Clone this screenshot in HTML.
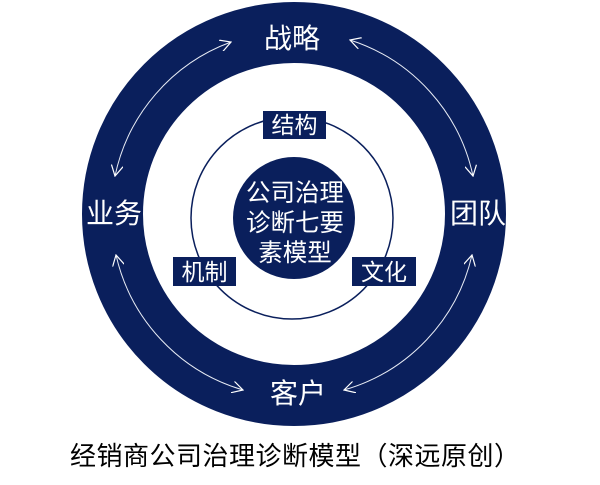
<!DOCTYPE html>
<html><head><meta charset="utf-8"><style>
body{margin:0;background:#fff;}
svg{display:block;}
text{font-family:"Liberation Sans","Noto Sans CJK SC",sans-serif;}
</style></head><body>
<svg width="600" height="485" viewBox="0 0 600 485">
<defs>
<marker id="a" viewBox="0 0 10 10" refX="9" refY="5" markerWidth="12" markerHeight="12" markerUnits="userSpaceOnUse" orient="auto-start-reverse">
<path d="M0,0 L9,5 L0,10" fill="none" stroke="#fff" stroke-width="1"/>
</marker>
</defs>
<circle cx="294" cy="214" r="181.5" fill="none" stroke="#0a1f5c" stroke-width="61"/>
<circle cx="292" cy="218" r="101" fill="none" stroke="#0a1f5c" stroke-width="1.5"/>
<circle cx="294" cy="218" r="61" fill="#0a1f5c"/>
<g fill="none" stroke="#e8ecf5" stroke-width="1" marker-start="url(#a)" marker-end="url(#a)">
<path d="M231,42 A183,183 0 0 0 115,176"/>
<path d="M350,40 A183,183 0 0 1 473,176"/>
<path d="M472,255 A183,183 0 0 1 344,390"/>
<path d="M243,390 A183,183 0 0 1 116,255"/>
</g>
<g fill="#fff" font-size="28" text-anchor="middle">
<text x="292" y="48">战略</text>
<text x="114" y="223">业务</text>
<text x="478" y="223">团队</text>
<text x="298" y="403">客户</text>
</g>
<g fill="#fff" font-size="24.5" text-anchor="middle">
<text x="295" y="201">公司治理</text>
<text x="295" y="231">诊断七要</text>
<text x="295" y="261">素模型</text>
</g>
<rect x="263" y="111" width="63" height="28" fill="#0a1f5c"/>
<rect x="173" y="257" width="63" height="29" fill="#0a1f5c"/>
<rect x="352" y="257" width="64" height="29" fill="#0a1f5c"/>
<g fill="#fff" font-size="23" text-anchor="middle">
<text x="294.5" y="133">结构</text>
<text x="204.5" y="280">机制</text>
<text x="384" y="280">文化</text>
</g>
<text x="70" y="465" font-size="26" fill="#000" textLength="450" lengthAdjust="spacing">经销商公司治理诊断模型（深远原创）</text>
</svg>
</body></html>
